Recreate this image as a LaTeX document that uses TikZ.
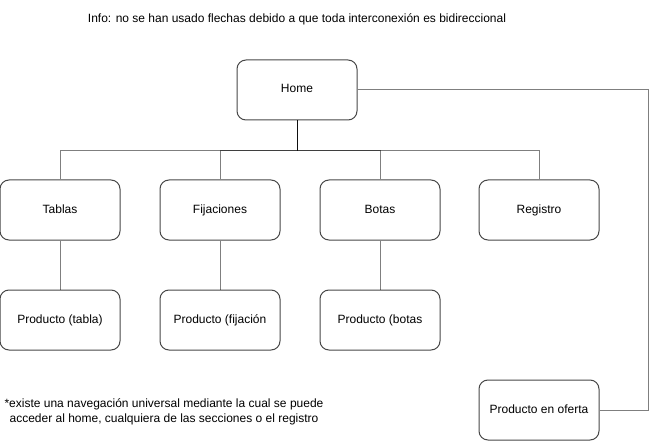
\documentclass[tikz,border=0pt]{standalone}
\usepackage{fontspec}
\setmainfont{Liberation Sans}
\begin{document}
\begin{tikzpicture}[x=1pt,y=-1pt,
  box/.style={draw=black!72,line width=1pt,rounded corners=9pt,minimum width=120pt,minimum height=60pt,inner sep=0pt,text height=8.6pt,text depth=2.6pt,font=\fontsize{12}{14}\selectfont},
  link/.style={draw=black,draw opacity=0.5,line width=1pt},
  txt/.style={font=\fontsize{12}{15}\selectfont,inner sep=0pt,align=center}]
\useasboundingbox (0,0) rectangle (651,441);
\node[txt] (info) at (297,19) {Info: no se han usado flechas debido a que toda interconexión es bidireccional};
\node[box] (home) at (297,90) {Home};
\node[box] (tablas) at (60,210) {Tablas};
\node[box] (fij) at (220,210) {Fijaciones};
\node[box] (botas) at (380,210) {Botas};
\node[box] (reg) at (539,210) {Registro};
\node[box] (ptabla) at (60,320) {Producto (tabla)};
\node[box] (pfij) at (220,320) {Producto (fijación};
\node[box] (pbotas) at (380,320) {Producto (botas};
\node[box] (oferta) at (539,410) {Producto en oferta};
\node[txt] (nota) at (164,411.5) {*existe una navegación universal mediante la cual se puede\\acceder al home, cualquiera de las secciones o el registro};
\draw[link] (home.south) -- ++(0,30) -| (tablas.north);
\draw[link] (home.south) -- ++(0,30) -| (fij.north);
\draw[link] (home.south) -- ++(0,30) -| (botas.north);
\draw[link] (home.south) -- ++(0,30) -| (reg.north);
\draw[link] (tablas.south) -- (ptabla.north);
\draw[link] (fij.south) -- (pfij.north);
\draw[link] (botas.south) -- (pbotas.north);
\draw[link] (home.east) -- ++(291,0) |- (oferta.east);
\end{tikzpicture}
\end{document}
